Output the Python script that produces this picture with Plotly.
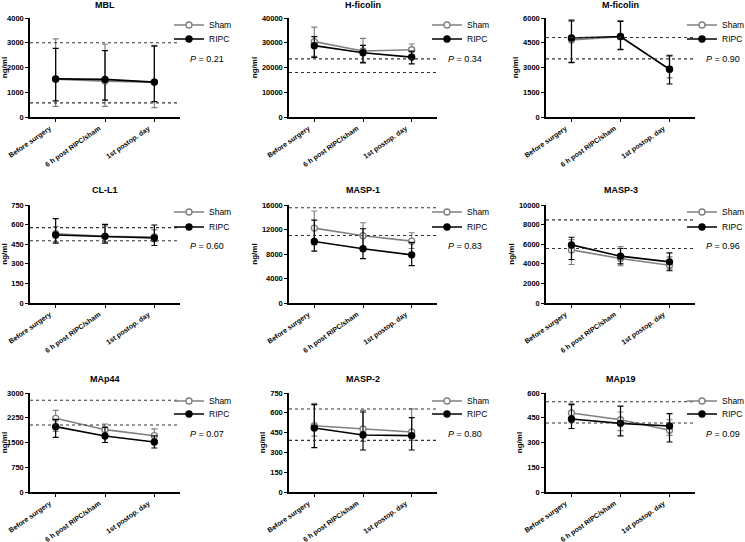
import plotly.graph_objects as go

categories = ["Before surgery", "6 h post RIPC/sham", "1st postop. day"]
series_names = ["Sham", "RIPC"]
panel_titles = ["MBL", "H-ficolin", "M-ficolin", "CL-L1", "MASP-1", "MASP-3", "MAp44", "MASP-2", "MAp19"]
p_values = ["0.21", "0.34", "0.90", "0.60", "0.83", "0.96", "0.07", "0.80", "0.09"]
y_max = [4000, 40000, 6000, 750, 16000, 10000, 3000, 750, 600]
y_step = [1000, 10000, 1500, 150, 4000, 2000, 750, 150, 150]

# reference (normal range) lines per panel
mbl_ref = [3000, 570]
hfic_ref = [23500, 18000]
mfic_ref = [4820, 3520]
cll1_ref = [577, 476]
masp1_ref = [15560, 11030]
masp3_ref = [8480, 5560]
map44_ref = [2780, 2030]
masp2_ref = [629, 391]
map19_ref = [547, 418]

# Sham: centre, lower, upper
mbl_sham = [1530, 1450, 1410]
mbl_sham_lo = [430, 430, 380]
mbl_sham_hi = [3160, 2940, 2890]
hfic_sham = [30460, 26660, 27200]
hfic_sham_lo = [24500, 22200, 25000]
hfic_sham_hi = [36300, 31800, 29500]
mfic_sham = [4670, 4860, 2900]
mfic_sham_lo = [3330, 4060, 2370]
mfic_sham_hi = [5900, 5840, 3750]
cll1_sham = [530, 510, 505]
cll1_sham_lo = [470, 470, 470]
cll1_sham_hi = [585, 590, 560]
masp1_sham = [12230, 10975, 10100]
masp1_sham_lo = [9500, 8800, 8900]
masp1_sham_hi = [15020, 13100, 11470]
masp3_sham = [5420, 4540, 3860]
masp3_sham_lo = [3930, 3800, 3450]
masp3_sham_hi = [6470, 5760, 4710]
map44_sham = [2232, 1889, 1707]
map44_sham_lo = [1840, 1500, 1540]
map44_sham_hi = [2475, 2060, 1910]
masp2_sham = [502, 477, 455]
masp2_sham_lo = [424, 384, 391]
masp2_sham_hi = [672, 619, 629]
map19_sham = [479, 438, 374]
map19_sham_lo = [420, 372, 343]
map19_sham_hi = [537, 485, 438]

# RIPC: centre, lower, upper
mbl_ripc = [1540, 1520, 1410]
mbl_ripc_lo = [650, 680, 620]
mbl_ripc_hi = [2770, 2680, 2860]
hfic_ripc = [28830, 25980, 24200]
hfic_ripc_lo = [24070, 21900, 21500]
hfic_ripc_hi = [32500, 28970, 26600]
mfic_ripc = [4790, 4880, 2890]
mfic_ripc_lo = [3300, 4100, 2000]
mfic_ripc_hi = [5830, 5800, 3700]
cll1_ripc = [520, 510, 497]
cll1_ripc_lo = [458, 458, 440]
cll1_ripc_hi = [646, 602, 597]
masp1_ripc = [10050, 8850, 7860]
masp1_ripc_lo = [8460, 7260, 6115]
masp1_ripc_hi = [13540, 12120, 9900]
masp3_ripc = [5930, 4780, 4200]
masp3_ripc_lo = [4440, 4000, 3290]
masp3_ripc_hi = [6710, 5560, 5120]
map44_ripc = [1980, 1697, 1515]
map44_ripc_lo = [1656, 1500, 1333]
map44_ripc_hi = [2200, 1960, 1700]
masp2_ripc = [485, 432, 427]
masp2_ripc_lo = [336, 318, 318]
masp2_ripc_hi = [662, 606, 563]
map19_ripc = [442, 416, 400]
map19_ripc_lo = [385, 340, 303]
map19_ripc_hi = [530, 520, 475]

refs = [mbl_ref, hfic_ref, mfic_ref, cll1_ref, masp1_ref, masp3_ref, map44_ref, masp2_ref, map19_ref]
sham = [(mbl_sham, mbl_sham_lo, mbl_sham_hi), (hfic_sham, hfic_sham_lo, hfic_sham_hi),
        (mfic_sham, mfic_sham_lo, mfic_sham_hi), (cll1_sham, cll1_sham_lo, cll1_sham_hi),
        (masp1_sham, masp1_sham_lo, masp1_sham_hi), (masp3_sham, masp3_sham_lo, masp3_sham_hi),
        (map44_sham, map44_sham_lo, map44_sham_hi), (masp2_sham, masp2_sham_lo, masp2_sham_hi),
        (map19_sham, map19_sham_lo, map19_sham_hi)]
ripc = [(mbl_ripc, mbl_ripc_lo, mbl_ripc_hi), (hfic_ripc, hfic_ripc_lo, hfic_ripc_hi),
        (mfic_ripc, mfic_ripc_lo, mfic_ripc_hi), (cll1_ripc, cll1_ripc_lo, cll1_ripc_hi),
        (masp1_ripc, masp1_ripc_lo, masp1_ripc_hi), (masp3_ripc, masp3_ripc_lo, masp3_ripc_hi),
        (map44_ripc, map44_ripc_lo, map44_ripc_hi), (masp2_ripc, masp2_ripc_lo, masp2_ripc_hi),
        (map19_ripc, map19_ripc_lo, map19_ripc_hi)]

W, H = 745, 542
FONT = "Liberation Sans, Arial, sans-serif"
GRAY = "#808080"

col_x = [(30, 180), (289, 437), (546, 695)]
row_y = [(18, 117), (205, 303), (393, 492)]
title_y = [5, 190, 379]
leg_text_x = [207, 465, 720]
leg_sham_y = [25, 212, 401]
leg_ripc_y = [39, 227, 414]
p_x = [188, 446, 704]
p_y = [59, 246, 434]

def px_x(v):
    return v / W

def px_y(v):
    return 1 - v / H

fig = go.Figure()
layout = {}
shapes = []
annotations = []
xs = [0, 1, 2]

for i in range(9):
    r, c = divmod(i, 3)
    n = "" if i == 0 else str(i + 1)
    xa, ya = "x" + n, "y" + n
    x0, x1 = col_x[c]
    yt, yb = row_y[r]
    layout["xaxis" + n] = dict(
        domain=[px_x(x0), px_x(x1)], anchor=ya, range=[-0.52, 2.52],
        tickvals=xs, ticktext=categories, tickangle=-35, automargin=False,
        ticklabelshift=-6,
        showline=True, linecolor="black", linewidth=1.5, ticks="outside",
        ticklen=3, tickwidth=1.2, tickcolor="black", showgrid=False, zeroline=False,
        tickfont=dict(family=FONT, size=7, color="black", weight="bold"),
    )
    layout["yaxis" + n] = dict(
        domain=[px_y(yb), px_y(yt)], anchor=xa, range=[0, y_max[i]], automargin=False,
        tick0=0, dtick=y_step[i], tickformat="d", showline=True, linecolor="black", linewidth=1.5,
        ticks="outside", ticklen=3, tickwidth=1.2, tickcolor="black",
        showgrid=False, zeroline=False,
        tickfont=dict(family=FONT, size=7.5, color="black", weight="bold"),
        title=dict(text="ng/ml", font=dict(family=FONT, size=8, color="black", weight="bold"), standoff=3),
    )
    for rv in refs[i]:
        shapes.append(dict(type="line", xref=xa + " domain", yref=ya, x0=0, x1=1, y0=rv, y1=rv,
                           line=dict(color="#333333", width=1.1, dash="dot")))
    annotations.append(dict(text="<b>" + panel_titles[i] + "</b>", xref="paper", yref="paper",
                            x=px_x((x0 + x1) / 2), y=px_y(title_y[r]), xanchor="center", yanchor="middle",
                            showarrow=False, font=dict(family=FONT, size=9, color="black")))
    annotations.append(dict(text="<i>P</i> = " + p_values[i], xref="paper", yref="paper",
                            x=px_x(p_x[c]), y=px_y(p_y[r]), xanchor="left", yanchor="middle",
                            showarrow=False, font=dict(family=FONT, size=9, color="black")))

    for k, (name, data, color) in enumerate([("Sham", sham[i], GRAY), ("RIPC", ripc[i], "black")]):
        mid, lo, hi = data
        lg = "legend" if (i == 0 and k == 0) else "legend" + str(2 * i + k + 1)
        fig.add_trace(go.Scatter(
            x=xs, y=mid, name=name, mode="lines+markers", xaxis=xa, yaxis=ya, legend=lg,
            line=dict(color=color, width=1.6),
            marker=dict(symbol="circle", size=6,
                        color="white" if k == 0 else "black",
                        line=dict(color=color, width=1.4)),
            error_y=dict(type="data", symmetric=False,
                         array=[h - m for h, m in zip(hi, mid)],
                         arrayminus=[m - l for m, l in zip(mid, lo)],
                         color=color, thickness=1.2, width=3),
            cliponaxis=False,
        ))
        ly = leg_sham_y[r] if k == 0 else leg_ripc_y[r]
        layout[lg] = dict(x=px_x(leg_text_x[c] - 38), y=px_y(ly), xanchor="left", yanchor="middle",
                          bgcolor="rgba(0,0,0,0)", borderwidth=0, itemwidth=30,
                          font=dict(family=FONT, size=8.5, color="black"))

fig.update_layout(**layout)
fig.update_layout(
    width=W, height=H, margin=dict(l=0, r=0, t=0, b=0, autoexpand=False),
    paper_bgcolor="white", plot_bgcolor="white",
    shapes=shapes, annotations=annotations, showlegend=True,
    font=dict(family=FONT, color="black"),
)
fig.write_html("out.html", config={"displayModeBar": False},
               post_script="document.body.style.margin='0px';")
